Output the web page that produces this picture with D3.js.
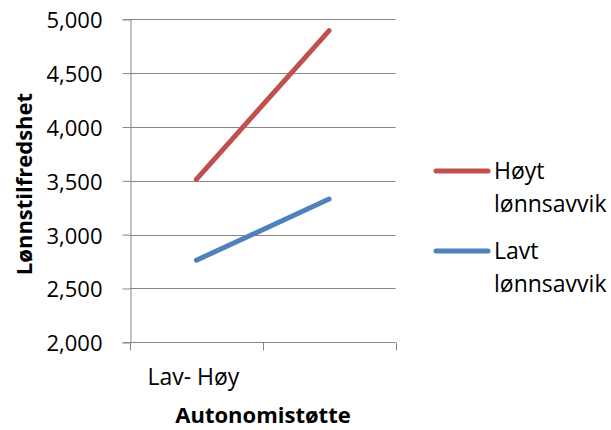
<!DOCTYPE html>
<html><head><meta charset="utf-8">
<script src="https://cdn.jsdelivr.net/npm/d3@7"></script>
<style>body{margin:0;background:#fff}svg{display:block}text{font-family:"Open Sans","Liberation Sans",Arial,sans-serif;fill:#000}</style>
</head><body>
<script>
const categories = ["Lav- Høy", ""];
const seriesNames = ["Høyt lønnsavvik", "Lavt lønnsavvik"];
const hoytValues = [3513, 4895];
const lavtValues = [2762, 3330];
const yTicks = [2000, 2500, 3000, 3500, 4000, 4500, 5000];
const colors = ["#C0504D", "#4F81BD"];

const W = 611, H = 430;
const svg = d3.select("body").append("svg").attr("width", W).attr("height", H);
const x = d3.scaleBand().domain(d3.range(categories.length)).range([130, 395.5]);
const y = d3.scaleLinear().domain([2000, 5000]).range([342.3, 19.3]);
const grid = "#868686";

// gridlines
svg.append("g").selectAll("line").data(yTicks).join("line")
  .attr("x1", 130).attr("x2", 395.5)
  .attr("y1", d => Math.round(y(d)) + 0.5).attr("y2", d => Math.round(y(d)) + 0.5)
  .attr("stroke", grid).attr("stroke-width", 1);

// y axis
const yAxis = svg.append("g").attr("transform", "translate(130.5,0)")
  .call(d3.axisLeft(y).tickValues(yTicks).tickSize(8).tickPadding(20).tickFormat(d3.format(",")));
yAxis.select(".domain").attr("stroke", grid);
yAxis.selectAll(".tick line").attr("stroke", grid);
yAxis.selectAll(".tick text").style("font-size", "22px").attr("dy", "0.38em");

// x axis
const xb = [130, 130 + x.bandwidth(), 395.5];
const xAxis = svg.append("g").attr("transform", `translate(0,${Math.round(y(2000)) + 0.5})`);
xAxis.selectAll("line").data(xb).join("line")
  .attr("x1", d => Math.round(d) + 0.5).attr("x2", d => Math.round(d) + 0.5)
  .attr("y1", 0).attr("y2", 8).attr("stroke", grid);
xAxis.selectAll("text").data(categories).join("text")
  .attr("x", (d, i) => x(i) + x.bandwidth() / 2 - 3).attr("y", 42)
  .attr("text-anchor", "middle").style("font-size", "23px").text(d => d);

// lines
const line = d3.line().x((d, i) => x(i) + x.bandwidth() / 2).y(d => y(d));
[hoytValues, lavtValues].forEach((vals, k) => {
  svg.append("path").datum(vals).attr("d", line)
    .attr("fill", "none").attr("stroke", colors[k]).attr("stroke-width", 5).attr("stroke-linecap", "round");
});

// axis titles
svg.append("text").attr("transform", "translate(32,184) rotate(-90)")
  .attr("text-anchor", "middle").attr("font-weight", "bold").style("font-size", "22px").text("Lønnstilfredshet");
svg.append("text").attr("x", 263).attr("y", 423)
  .attr("text-anchor", "middle").attr("font-weight", "bold").style("font-size", "22px").text("Autonomistøtte");

// legend
const leg = svg.append("g");
const legY = [171, 251];
seriesNames.forEach((name, k) => {
  leg.append("line").attr("x1", 436).attr("x2", 488).attr("y1", legY[k]).attr("y2", legY[k])
    .attr("stroke", colors[k]).attr("stroke-width", 5).attr("stroke-linecap", "round");
  const parts = name.split(" ");
  leg.append("text").attr("x", 494).attr("y", legY[k] + 8).style("font-size", "23px").text(parts[0]);
  leg.append("text").attr("x", 494).attr("y", legY[k] + 41).style("font-size", "23px").text(parts[1]);
});
</script>
</body></html>
